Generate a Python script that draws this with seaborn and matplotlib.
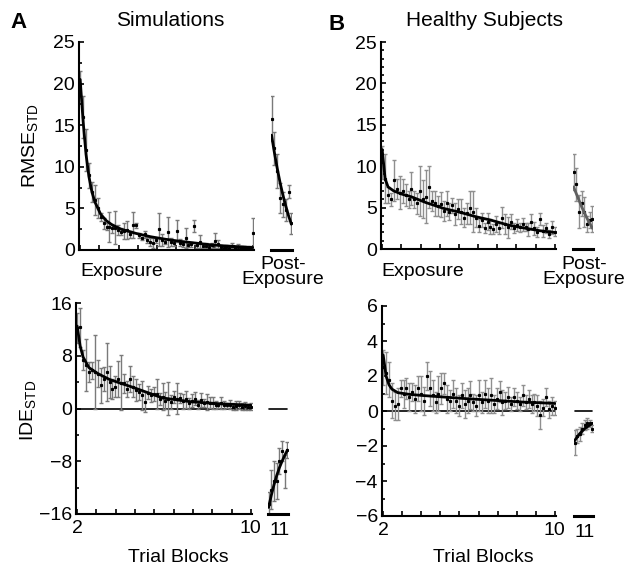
import numpy as np
import matplotlib
matplotlib.use("Agg")
import matplotlib.pyplot as plt
import seaborn as sns

# ---------------------------------------------------------------
# data (60 exposure trials, 8 post trials)
# ---------------------------------------------------------------
rmse_sim_mean = [20.0, 16.0, 12.0, 9.0, 7.0, 6.0, 5.0, 4.0, 3.2, 2.8,
                 2.8, 2.6, 2.7, 2.4, 2.2, 2.3, 2.4, 1.9, 3.0, 3.0,
                 1.8, 1.4, 1.9, 1.2, 1.0, 0.9, 1.2, 2.5, 1.2, 1.0,
                 2.2, 1.0, 0.8, 2.3, 0.9, 0.7, 1.5, 0.6, 0.7, 2.9,
                 0.6, 1.0, 0.5, 0.5, 0.4, 0.6, 1.1, 0.7, 0.4, 0.3,
                 0.4, 0.3, 0.5, 0.3, 0.4, 0.3, 0.3, 0.2, 0.3, 2.0]
rmse_sim_err = [1.5, 2.5, 2.5, 1.5, 1.2, 1.8, 1.2, 0.5, 0.7, 0.4,
                1.8, 0.5, 2.0, 0.6, 0.4, 1.0, 1.1, 0.4, 1.6, 0.3,
                0.3, 0.2, 0.4, 0.4, 0.5, 0.6, 0.3, 2.0, 0.7, 0.3,
                1.8, 0.5, 0.3, 1.3, 0.4, 0.3, 1.2, 0.2, 0.3, 0.7,
                0.3, 0.8, 0.2, 0.3, 0.2, 0.3, 0.9, 0.5, 0.2, 0.2,
                0.2, 0.2, 0.3, 0.2, 0.3, 0.2, 0.2, 0.1, 0.2, 1.9]
rmse_sim_fit_x = [1, 2, 3, 4, 5, 6, 8, 10, 12, 15, 20, 25, 30, 35, 40, 45, 50, 55, 60]
rmse_sim_fit_y = [20.5, 15.5, 11.5, 8.8, 7.0, 5.8, 4.3, 3.5, 3.0, 2.5, 2.0, 1.6,
                  1.3, 1.05, 0.85, 0.65, 0.5, 0.4, 0.3]
rmse_sim_post_mean = [15.8, 12.2, 9.5, 6.3, 5.5, 4.8, 7.0, 3.2]
rmse_sim_post_err = [2.7, 2.0, 2.0, 1.8, 1.5, 1.3, 0.8, 1.3]
rmse_sim_post_fit = [13.8, 11.7, 9.8, 8.1, 6.6, 5.3, 4.1, 3.1]

rmse_hs_mean = [10.5, 8.5, 6.5, 6.0, 8.3, 7.2, 6.8, 7.0, 6.5, 6.0,
                7.3, 6.0, 5.5, 7.0, 6.0, 6.3, 7.5, 5.8, 5.5, 5.2,
                5.4, 4.6, 5.5, 4.5, 5.3, 4.2, 4.8, 4.5, 3.8, 4.3,
                5.0, 4.5, 3.8, 2.8, 3.5, 2.5, 3.3, 2.7, 2.4, 3.0,
                2.5, 3.8, 3.0, 2.6, 3.3, 2.5, 2.9, 2.6, 3.0, 2.7,
                2.4, 3.3, 2.5, 2.1, 3.6, 2.2, 2.5, 1.8, 2.6, 2.1]
rmse_hs_err = [2.0, 3.0, 1.0, 0.8, 2.5, 1.2, 2.0, 1.5, 1.3, 1.0,
               2.0, 1.0, 1.3, 3.0, 2.3, 3.2, 2.5, 1.2, 1.5, 1.2,
               1.5, 1.2, 1.5, 1.0, 0.9, 1.3, 1.2, 1.5, 1.2, 1.3,
               2.0, 2.5, 1.2, 0.8, 0.8, 0.6, 1.0, 0.9, 0.6, 1.0,
               0.7, 1.3, 1.2, 1.3, 0.9, 0.6, 0.7, 0.6, 0.8, 0.5,
               0.8, 0.9, 0.8, 0.6, 0.7, 0.7, 0.6, 0.5, 0.8, 0.5]
rmse_hs_fit_x = [1, 2, 3, 5, 8, 11, 16, 22, 28, 33, 38, 44, 50, 55, 60]
rmse_hs_fit_y = [12.0, 8.5, 7.5, 7.0, 6.6, 6.3, 5.6, 4.9, 4.4, 3.9, 3.5, 2.9, 2.5, 2.2, 2.0]
rmse_hs_post_mean = [9.3, 7.8, 4.5, 5.5, 4.5, 3.0, 3.5, 3.6]
rmse_hs_post_err = [2.2, 2.0, 2.0, 1.5, 1.8, 1.0, 1.0, 1.6]
rmse_hs_post_fit = [7.5, 6.7, 5.9, 5.1, 4.4, 3.7, 3.1, 2.5]

ide_sim_mean = [12.2, 12.3, 7.3, 6.6, 5.5, 5.8, 5.6, 5.3, 3.5, 4.5,
                5.6, 4.0, 3.0, 3.3, 4.5, 3.9, 3.8, 3.0, 4.5, 3.3,
                2.8, 2.5, 2.0, 1.0, 2.4, 2.0, 2.2, 2.2, 1.5, 1.8,
                1.2, 1.5, 1.0, 1.8, 1.5, 1.6, 1.1, 1.4, 0.8, 1.2,
                1.5, 0.6, 1.3, 0.9, 1.0, 0.9, 0.8, 0.6, 0.5, 0.8,
                0.5, 0.5, 0.6, 0.3, 0.4, 0.5, 0.3, 0.4, 0.2, 0.3]
ide_sim_err = [2.3, 2.9, 1.5, 4.0, 1.5, 1.3, 5.6, 2.0, 2.6, 1.8,
               4.4, 2.4, 1.5, 1.6, 2.7, 4.2, 1.5, 1.2, 2.0, 1.6,
               1.6, 1.2, 2.2, 1.5, 1.0, 1.0, 1.1, 2.2, 0.9, 2.0,
               1.3, 2.5, 1.0, 0.9, 2.4, 0.8, 1.1, 1.3, 0.8, 1.0,
               1.0, 0.7, 1.0, 0.6, 1.2, 0.8, 0.9, 0.6, 0.4, 0.9,
               0.6, 0.4, 0.7, 0.5, 0.7, 0.6, 0.5, 0.6, 0.5, 0.5]
ide_sim_fit_x = [1, 2, 3, 5, 8, 12, 16, 20, 25, 30, 35, 40, 45, 50, 55, 60]
ide_sim_fit_y = [12.5, 9.5, 7.8, 6.2, 5.3, 4.4, 3.8, 3.2, 2.4, 1.6, 1.3, 1.0,
                 0.85, 0.7, 0.6, 0.5]
ide_sim_post_mean = [-14.5, -12.3, -11.0, -11.0, -8.0, -6.5, -9.5, -6.3]
ide_sim_post_err = [1.8, 3.0, 3.0, 2.7, 2.0, 1.5, 2.5, 1.2]
ide_sim_post_fit = [-15.0, -13.2, -11.6, -10.2, -9.0, -8.0, -7.1, -6.3]

ide_hs_mean = [2.5, 2.2, 1.8, 0.6, 0.3, 0.4, 1.3, 1.0, 1.3, 0.8,
               1.1, 0.7, 1.3, 1.0, 0.6, 2.0, 1.3, 0.9, 0.5, 1.0,
               1.3, 1.6, 0.7, 0.6, 1.0, 0.6, 0.3, 0.9, 0.4, 0.6,
               0.9, 0.5, 0.3, 0.9, 0.5, 1.0, 0.6, 0.9, 0.4, 0.7,
               1.1, 0.5, 0.6, 0.8, 0.4, 0.8, 0.6, 0.4, 0.9, 0.5,
               0.7, 0.4, 0.5, 0.3, -0.2, 0.2, 0.8, 0.1, 0.3, 0.2]
ide_hs_err = [1.0, 1.2, 1.0, 1.0, 0.8, 0.9, 0.5, 0.8, 0.6, 0.8,
              0.5, 0.8, 0.7, 1.0, 0.8, 0.8, 1.0, 0.9, 0.6, 1.0,
              0.9, 0.6, 0.8, 0.6, 0.8, 0.7, 0.6, 0.7, 0.8, 0.7,
              0.8, 0.5, 0.6, 0.9, 0.6, 0.8, 0.7, 1.0, 0.5, 0.6,
              0.6, 0.7, 0.5, 0.6, 0.4, 0.5, 0.5, 0.4, 0.6, 0.4,
              0.5, 0.5, 0.5, 0.6, 0.8, 0.5, 0.5, 0.5, 0.5, 0.4]
ide_hs_fit_x = [1, 2, 3, 4, 6, 10, 15, 20, 25, 30, 35, 40, 45, 50, 55, 60]
ide_hs_fit_y = [3.2, 2.0, 1.5, 1.25, 1.05, 0.95, 0.88, 0.82, 0.76, 0.7, 0.65,
                0.6, 0.55, 0.5, 0.47, 0.43]
ide_hs_post_mean = [-1.8, -1.4, -1.3, -1.0, -0.8, -0.7, -0.7, -1.0]
ide_hs_post_err = [0.7, 0.4, 0.4, 0.3, 0.3, 0.3, 0.2, 0.2]
ide_hs_post_fit = [-1.7, -1.5, -1.3, -1.15, -1.0, -0.9, -0.8, -0.7]

exposure_trials = np.arange(1, 61)
post_trials = np.arange(1, 9)

# ---------------------------------------------------------------
# style
# ---------------------------------------------------------------
sns.set_style("ticks")
plt.rcParams["font.family"] = ["Liberation Sans", "DejaVu Sans"]
plt.rcParams["mathtext.fontset"] = "custom"
plt.rcParams["mathtext.rm"] = "Liberation Sans"
plt.rcParams["mathtext.it"] = "Liberation Sans"
for key in ("text.color", "axes.labelcolor", "xtick.color", "ytick.color",
            "axes.edgecolor"):
    plt.rcParams[key] = "black"
FS = 14

W, H = 629, 569
fig = plt.figure(figsize=(W / 100, H / 100), dpi=100)


def px_axes(left, right, top, bottom):
    return fig.add_axes([left / W, 1 - bottom / H, (right - left) / W, (bottom - top) / H])


def draw_points(ax, x, mean, err, bar_color, cap_color):
    eb = ax.errorbar(x, mean, yerr=err, fmt="s", ms=1.3, color="k",
                     ecolor=bar_color, elinewidth=1.0, capsize=1.6,
                     capthick=1.0, zorder=2, clip_on=True)
    for cap in eb[1]:
        cap.set_color(cap_color)


def exposure_panel(ax, mean, err, fit_x, fit_y, ylim, major, minor,
                   bar_color, cap_color, bottom_row):
    draw_points(ax, exposure_trials, mean, err, bar_color, cap_color)
    sns.lineplot(x=fit_x, y=fit_y, ax=ax, color="k", lw=2.0, zorder=3)
    if ylim[0] < 0:
        ax.axhline(0, color="k", lw=1.2, zorder=1)
    ax.set_xlim(0.6, 60.4)
    ax.set_ylim(*ylim)
    sns.despine(ax=ax)
    for s in ("left", "bottom"):
        ax.spines[s].set_linewidth(1.5)
    ax.set_yticks(major)
    ax.set_yticks(minor, minor=True)
    xt = np.linspace(1, 60, 10)
    ax.set_xticks(xt)
    if bottom_row:
        ax.set_xticklabels(["2"] + [""] * 8 + ["10"])
    else:
        ax.set_xticklabels([""] * 10)
    ax.tick_params(which="both", direction="in", labelsize=FS, width=1.2)
    ax.tick_params(which="major", length=3.5)
    ax.tick_params(which="minor", length=2.5)
    ax.tick_params(axis="y", pad=3)
    ax.tick_params(axis="x", pad=4)
    ax.set_xlabel("")
    ax.set_ylabel("")


def post_panel(ax, mean, err, fit, ylim, bar_color, cap_color, fit_color,
               bottom_row):
    draw_points(ax, post_trials, mean, err, bar_color, cap_color)
    sns.lineplot(x=post_trials, y=fit, ax=ax, color=fit_color, lw=2.0, zorder=3)
    if ylim[0] < 0:
        ax.axhline(0, xmin=0.05, xmax=0.95, color="k", lw=1.2, zorder=1)
    ax.set_xlim(0.8, 8.2)
    ax.set_ylim(*ylim)
    for s in ("left", "top", "right"):
        ax.spines[s].set_visible(False)
    ax.spines["bottom"].set_linewidth(2.2)
    ax.set_yticks([])
    if bottom_row:
        ax.set_xticks([5.0])
        ax.set_xticklabels(["11"])
    else:
        ax.set_xticks([])
    ax.tick_params(axis="x", length=0, labelsize=FS, pad=5.5)
    ax.set_xlabel("")
    ax.set_ylabel("")


# panel A, top
ax = px_axes(79, 254, 42, 250)
exposure_panel(ax, rmse_sim_mean, rmse_sim_err, rmse_sim_fit_x, rmse_sim_fit_y,
               (0, 25), [0, 5, 10, 15, 20, 25], np.arange(0, 25.1, 2.5),
               "#7a7a7a", "#222222", False)
ax = px_axes(271, 292, 42, 250)
post_panel(ax, rmse_sim_post_mean, rmse_sim_post_err, rmse_sim_post_fit,
           (0, 25), "#7a7a7a", "#333333", "k", False)

# panel B, top
ax = px_axes(381, 556, 42, 249)
exposure_panel(ax, rmse_hs_mean, rmse_hs_err, rmse_hs_fit_x, rmse_hs_fit_y,
               (0, 25), [0, 5, 10, 15, 20, 25], np.arange(0, 26, 1),
               "#8f8f8f", "#6a6a6a", False)
ax = px_axes(573, 593, 42, 249)
post_panel(ax, rmse_hs_post_mean, rmse_hs_post_err, rmse_hs_post_fit,
           (0, 25), "#8f8f8f", "#6a6a6a", "#606060", False)

# panel A, bottom
ax = px_axes(76, 252, 303, 514)
exposure_panel(ax, ide_sim_mean, ide_sim_err, ide_sim_fit_x, ide_sim_fit_y,
               (-16, 16), [-16, -8, 0, 8, 16], np.arange(-16, 17, 4),
               "#7a7a7a", "#222222", True)
ax = px_axes(268, 288, 303, 514)
post_panel(ax, ide_sim_post_mean, ide_sim_post_err, ide_sim_post_fit,
           (-16, 16), "#7a7a7a", "#333333", "k", True)

# panel B, bottom
ax = px_axes(382, 556, 306, 516)
exposure_panel(ax, ide_hs_mean, ide_hs_err, ide_hs_fit_x, ide_hs_fit_y,
               (-6, 6), [-6, -4, -2, 0, 2, 4, 6], np.arange(-6, 7, 1),
               "#8f8f8f", "#6a6a6a", True)
ax = px_axes(574, 593, 306, 516)
post_panel(ax, ide_hs_post_mean, ide_hs_post_err, ide_hs_post_fit,
           (-6, 6), "#8f8f8f", "#6a6a6a", "k", True)

# ---------------------------------------------------------------
# text
# ---------------------------------------------------------------
def ftext(x, y, s, **kw):
    fig.text(x / W, 1 - y / H, s, **kw)


ftext(10, 23, "A", fontsize=16, fontweight="bold", va="center", ha="left")
ftext(328, 25, "B", fontsize=16, fontweight="bold", va="center", ha="left")
ftext(170, 20, "Simulations", fontsize=15, va="center", ha="center")
ftext(485, 20, "Healthy Subjects", fontsize=15, va="center", ha="center")

ftext(30, 145, r"RMSE$_{\mathrm{STD}}$", fontsize=FS, rotation=90,
      va="center", ha="center")
ftext(28, 410, r"IDE$_{\mathrm{STD}}$", fontsize=FS, rotation=90,
      va="center", ha="center")

ftext(80, 272, "Exposure", fontsize=FS, va="center", ha="left")
ftext(381, 272, "Exposure", fontsize=FS, va="center", ha="left")
ftext(283, 272, "Post-\nExposure", fontsize=FS, va="center", ha="center",
      linespacing=0.8)
ftext(584, 272, "Post-\nExposure", fontsize=FS, va="center", ha="center",
      linespacing=0.8)

ftext(178, 557, "Trial Blocks", fontsize=FS, va="center", ha="center")
ftext(483, 557, "Trial Blocks", fontsize=FS, va="center", ha="center")

fig.savefig("out.png", dpi=100, facecolor="white")
